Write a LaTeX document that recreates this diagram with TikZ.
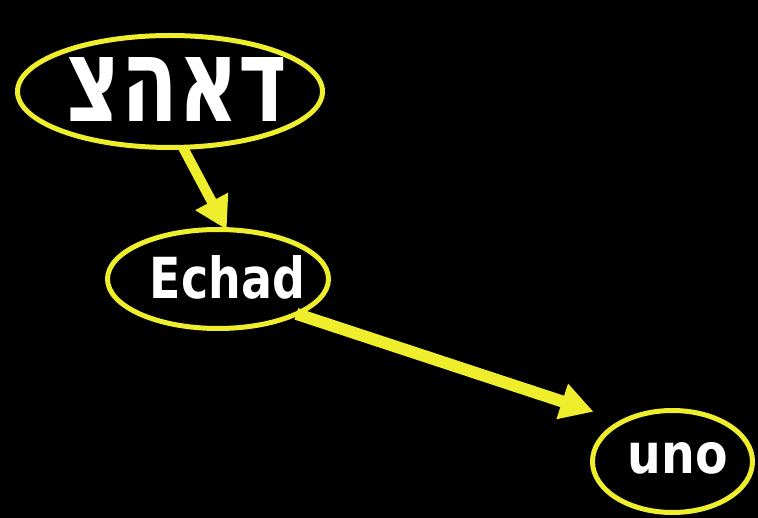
\documentclass[tikz,border=0pt]{standalone}
\usepackage{fontspec}
\usepackage{graphicx}
\usetikzlibrary{arrows.meta,shapes.geometric}
\TeXXeTstate=1
\newfontfamily\hebfont[Script=Hebrew]{DejaVu Sans}
\newfontfamily\labfont{DejaVu Sans}
\definecolor{ylw}{RGB}{238,238,45}
\begin{document}
\begin{tikzpicture}[x=1pt,y=-1pt,
  oval/.style={ellipse,draw=ylw,line width=5pt,inner sep=0pt,outer sep=0pt},
  lbl/.style={text=white,inner sep=0pt},
  linkA/.style={draw=ylw,line width=10pt,-{Triangle[length=32pt,width=35pt]}},
  linkB/.style={draw=ylw,line width=12pt,-{Triangle[length=33pt,width=35pt]}}]
  \fill[black] (0,0) rectangle (758,518);
  \useasboundingbox (0,0) rectangle (758,518);
  \node[oval,minimum width=305pt,minimum height=112pt] (top) at (170,91.5) {};
  \node[oval,minimum width=221pt,minimum height=99pt] (echad) at (218,279) {};
  \node[oval,minimum width=160pt,minimum height=102pt] (uno) at (672.5,461.5) {};
  \node[lbl] (hebtxt) at (177,90) {\resizebox{220pt}{64pt}{\hebfont\bfseries\beginR דאהצ\endR}};
  \node[lbl] (echadtxt) at (227.5,277.5) {\resizebox{155pt}{43pt}{\labfont\bfseries Echad}};
  \node[lbl] (unotxt) at (678,458.5) {\resizebox{100pt}{31pt}{\labfont\bfseries uno}};
  \draw[linkA] (top.-77.6) -- (echad.80);
  \draw[linkB,shorten >=31pt] (echad.-24) -- (uno.141.5);
\end{tikzpicture}
\end{document}
